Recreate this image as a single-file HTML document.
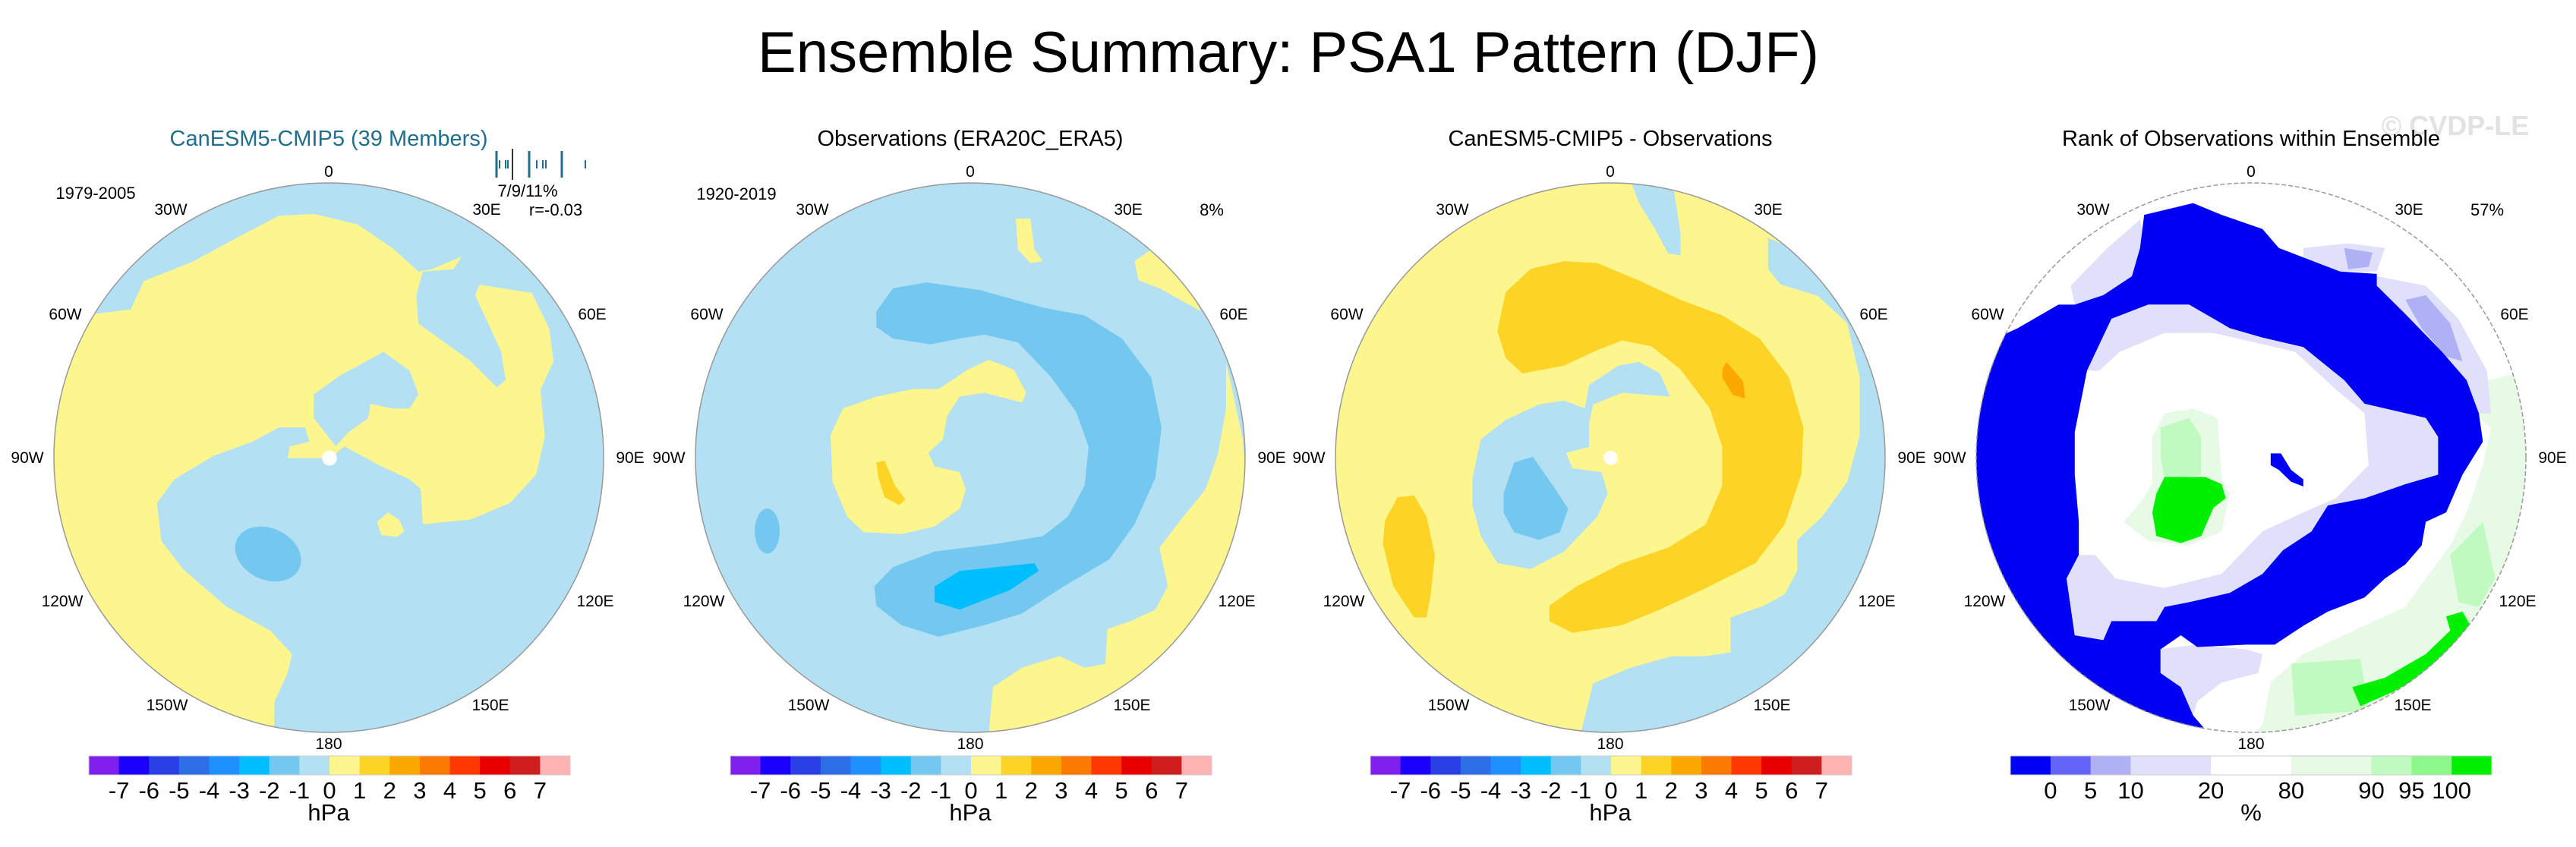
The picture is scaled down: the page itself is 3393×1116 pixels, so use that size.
<!DOCTYPE html>
<html><head><meta charset="utf-8"><style>
html,body{margin:0;padding:0;background:#fff;}
svg{display:block;font-family:"Liberation Sans",sans-serif;}
</style></head><body>
<svg id="fig" width="3393" height="1116" viewBox="0 0 3393 1116" xmlns="http://www.w3.org/2000/svg">
<defs>
<clipPath id="c1"><circle cx="433" cy="603" r="362"/></clipPath>
<clipPath id="c2"><circle cx="1278" cy="603" r="362"/></clipPath>
<clipPath id="c3"><circle cx="2121" cy="603" r="362"/></clipPath>
<clipPath id="c4"><circle cx="2965" cy="603" r="362"/></clipPath>
</defs>
<text x="1697" y="95" font-size="76" text-anchor="middle">Ensemble Summary: PSA1 Pattern (DJF)</text>
<text x="3234" y="178" font-size="36" font-weight="bold" fill="#e2e2e2" text-anchor="middle">© CVDP-LE</text>

<!-- Panel 1 -->
<g>
<text x="433" y="192" font-size="29" fill="#1f6e8c" text-anchor="middle">CanESM5-CMIP5 (39 Members)</text>
<g clip-path="url(#c1)">
<rect x="60" y="230" width="760" height="750" fill="#b3e0f3"/>
<g transform="translate(0,140) scale(0.5741,0.6223)">
<path fill="#fdf68e" d="M215,440 L300,430 330,370 440,330 540,280 640,232 720,228 820,250 900,300 960,350 990,345 1060,318 1040,345 970,350 955,400 960,460 1020,500 1080,540 1140,595 1160,580 1150,520 1120,460 1090,400 1100,378 1220,395 1260,470 1270,540 1240,600 1250,700 1230,780 1170,840 1080,875 970,885 965,810 940,790 870,760 790,720 760,745 660,745 665,720 710,710 700,680 640,680 580,710 490,740 400,790 360,840 370,920 420,980 520,1060 620,1110 670,1160 660,1200 630,1260 628,1340 500,1400 50,1400 50,300 Z"/>
<path fill="#b3e0f3" d="M720,610 L780,570 880,520 940,560 960,610 940,640 900,640 850,630 845,660 800,690 770,720 720,660 Z"/>
<path fill="#fdf68e" d="M865,880 L890,860 915,875 928,900 910,912 875,908 Z"/>
<ellipse cx="615" cy="948" rx="78" ry="55" transform="rotate(20 615 948)" fill="#74c8f0"/>
<ellipse cx="756" cy="745" rx="17" ry="16" fill="#fff"/>
</g></g>
<circle cx="433" cy="603" r="362" fill="none" stroke="#999" stroke-width="1.5"/>
<text x="126" y="262" font-size="22" text-anchor="middle">1979-2005</text>
<text x="695" y="259" font-size="22" text-anchor="middle">7/9/11%</text>
<text x="732" y="284" font-size="22" text-anchor="middle">r=-0.03</text>
<g id="ticks1"></g>
</g>

<!-- Panel 2 -->
<g>
<text x="1278" y="192" font-size="29" text-anchor="middle">Observations (ERA20C_ERA5)</text>
<g clip-path="url(#c2)">
<rect x="900" y="230" width="760" height="750" fill="#b3e0f3"/>
<g transform="translate(880,140) scale(0.5485,0.5102)">
<path fill="#74c8f0" d="M500,530 L540,470 620,455 750,475 900,520 1000,540 1090,600 1160,700 1185,830 1170,960 1120,1080 1060,1170 950,1240 850,1310 760,1340 650,1370 560,1340 500,1290 495,1240 540,1190 640,1150 790,1130 900,1110 960,1060 1000,980 1010,880 980,790 920,700 840,610 760,590 700,600 630,615 540,600 500,570 Z"/>
<path fill="#00bfff" d="M640,1240 L700,1200 880,1180 890,1200 820,1250 700,1300 640,1280 Z"/>
<path fill="#fdf68e" d="M390,850 L420,780 500,750 590,730 650,730 720,680 770,655 830,680 860,740 850,765 760,740 700,750 670,800 660,860 625,895 640,930 700,945 715,990 700,1040 640,1085 560,1105 470,1100 430,1060 395,970 Z"/>
<path fill="#fdd426" d="M500,920 L520,915 545,980 570,1015 555,1030 520,1010 505,960 Z"/>
<ellipse cx="238" cy="1097" rx="30" ry="58" fill="#74c8f0"/>
<path fill="#fdf68e" d="M1340,660 L1380,860 1400,1100 1300,1300 1100,1500 900,1620 770,1620 780,1500 850,1450 940,1420 1000,1450 1050,1440 1055,1350 1110,1330 1170,1300 1200,1240 1180,1140 1230,1070 1290,990 1320,900 1340,780 Z"/>
<path fill="#fdf68e" d="M835,290 L870,290 880,370 900,400 870,405 840,370 Z"/>
<path fill="#fdf68e" d="M1120,400 L1160,370 1250,470 1280,530 1180,470 1130,450 Z"/>
</g></g>
<circle cx="1278" cy="603" r="362" fill="none" stroke="#999" stroke-width="1.5"/>
<text x="970" y="263" font-size="22" text-anchor="middle">1920-2019</text>
<text x="1596" y="284" font-size="22" text-anchor="middle">8%</text>
</g>

<!-- Panel 3 -->
<g>
<text x="2121" y="192" font-size="29" text-anchor="middle">CanESM5-CMIP5 - Observations</text>
<g clip-path="url(#c3)">
<rect x="1740" y="230" width="760" height="750" fill="#fdf68e"/>
<g transform="translate(1720,140) scale(0.5485,0.5102)">
<path fill="#fdd426" d="M460,580 L480,480 540,420 620,400 700,405 800,450 900,500 1000,540 1090,600 1160,700 1195,830 1190,950 1150,1080 1080,1180 950,1250 850,1300 760,1340 640,1360 585,1330 585,1290 650,1240 760,1180 870,1140 960,1080 1000,980 1000,880 970,780 900,680 830,620 760,605 700,630 620,670 520,690 480,650 Z"/>
<path fill="#fba800" d="M1000,680 L1010,660 1050,710 1055,755 1025,745 1000,700 Z"/>
<path fill="#fdd426" d="M190,1070 L220,1010 260,1005 290,1060 310,1160 300,1260 290,1320 260,1320 210,1240 185,1130 Z"/>
<path fill="#b3e0f3" d="M400,960 L420,860 480,810 560,770 620,760 670,780 680,720 750,670 800,660 850,690 875,750 760,740 690,770 680,820 680,880 625,895 640,935 710,945 725,1000 700,1060 620,1150 540,1195 460,1180 420,1110 400,1030 Z"/>
<path fill="#74c8f0" d="M475,1000 L500,920 545,905 600,990 630,1040 610,1100 560,1120 500,1100 475,1050 Z"/>
<path fill="#b3e0f3" d="M1110,340 L1200,380 1300,500 1380,700 1420,1000 1320,1300 1100,1520 900,1620 660,1620 690,1490 780,1450 880,1420 960,1420 1020,1410 1020,1320 1100,1290 1150,1260 1180,1200 1180,1120 1240,1060 1300,970 1330,850 1330,700 1300,560 1230,490 1140,460 1110,420 Z"/>
<path fill="#b3e0f3" d="M775,180 L880,190 900,330 900,385 870,380 840,320 800,250 Z"/>
<ellipse cx="732" cy="908" rx="17" ry="18" fill="#fff"/>
</g></g>
<circle cx="2121" cy="603" r="362" fill="none" stroke="#999" stroke-width="1.5"/>
</g>

<!-- Panel 4 -->
<g>
<text x="2965" y="192" font-size="29" text-anchor="middle">Rank of Observations within Ensemble</text>
<g clip-path="url(#c4)">
<rect x="2590" y="230" width="760" height="750" fill="#fff"/>
<g transform="translate(2550,140) scale(0.5376,0.6223)">
<path fill="#e6fae6" d="M1240,600 L1460,560 1480,1400 700,1400 800,1310 820,1220 900,1160 1050,1100 1150,1060 1200,1000 1260,930 1300,860 1340,760 1360,680 Z"/>
<path fill="#c0fac0" d="M870,1180 L1040,1170 1060,1280 880,1290 Z"/>
<path fill="#c0fac0" d="M1260,950 L1340,880 1370,1000 1330,1060 1280,1050 Z"/>
<path fill="#e0e0fa" d="M330,380 L420,300 500,240 520,330 480,400 400,420 340,420 Z"/>
<path fill="#e0e0fa" d="M900,300 L1010,290 1100,300 1080,350 990,350 900,330 Z"/>
<path fill="#e0e0fa" d="M1080,360 L1200,380 1280,450 1350,560 1360,650 1330,650 1300,580 1240,520 1150,440 1080,380 Z"/>
<path fill="#b0b0f5" d="M1150,410 L1200,400 1260,460 1290,540 1250,530 1190,470 Z"/>
<path fill="#b0b0f5" d="M1000,300 L1070,310 1060,340 1010,345 Z"/>
<path fill="#e0e0fa" d="M540,1150 L640,1140 760,1150 800,1160 790,1200 700,1220 640,1260 630,1290 600,1230 550,1200 Z"/>
<path fill="#0000f5" fill-rule="evenodd" d="M510,230 L630,205 700,230 800,260 840,300 990,350 1080,355 1080,380 1150,440 1240,520 1300,580 1330,650 1340,710 1290,780 1250,860 1200,880 1190,930 1150,970 1100,1000 1050,1040 960,1070 900,1100 830,1140 760,1140 640,1145 600,1120 550,1150 550,1200 600,1230 630,1290 660,1320 660,1400 0,1400 0,540 150,490 200,470 300,420 340,420 410,400 480,360 500,300 Z M340,690 L370,560 430,450 520,420 620,420 720,470 800,490 900,510 1000,580 1050,630 1200,660 1230,700 1230,780 1150,800 1050,830 960,845 920,900 850,940 800,990 720,1030 620,1050 560,1060 540,1090 430,1090 410,1130 340,1120 320,1000 350,950 350,880 340,780 Z"/>
<path fill="#e0e0fa" d="M370,560 L430,450 520,420 620,420 720,470 800,490 900,510 1000,580 1050,630 1200,660 1230,700 1230,780 1150,800 1050,830 960,845 920,900 850,940 800,990 720,1030 620,1050 560,1060 540,1090 430,1090 410,1130 340,1120 320,1000 350,950 390,950 440,1000 560,1020 700,990 800,900 900,860 980,830 1060,760 1050,650 980,600 880,520 780,500 680,480 560,480 450,520 400,560 Z"/>
<path fill="#e6fae6" d="M530,700 L560,650 630,640 690,660 700,790 720,820 700,900 620,930 520,920 460,880 500,840 530,800 Z"/>
<path fill="#c0fac0" d="M550,680 L620,660 650,700 650,780 560,790 550,740 Z"/>
<path fill="#00f000" d="M540,820 L560,785 660,785 700,800 710,830 680,850 650,910 600,925 540,910 530,860 Z"/>
<path fill="#00f000" d="M1020,1230 L1100,1210 1200,1160 1260,1110 1250,1080 1290,1070 1310,1100 1270,1150 1200,1200 1120,1240 1040,1270 Z"/>
<path fill="#0000f5" d="M820,735 L845,735 870,770 900,790 900,805 870,795 840,770 820,760 Z"/>
</g></g>
<circle cx="2965" cy="603" r="362" fill="none" stroke="#999" stroke-width="1.5" stroke-dasharray="6 3"/>
<text x="3276" y="284" font-size="22" text-anchor="middle">57%</text>
</g>

<g id="lonlabels"></g>
<g id="colorbars"></g>
</svg>
<script>
const centers = [433, 1278, 2121, 2965];
const cy = 603;
const lonLabels = ['0','30E','60E','90E','120E','150E','180','150W','120W','90W','60W','30W'];
const lonDx = [0,208,347,397,351,213,0,-213,-351,-397,-347,-208];
const lonDy = [-377,-327,-189,0,189,326,377,326,189,0,-189,-327];
const hpaColors = ['#8020ee','#1a00fa','#2a40e6','#2d6ee6','#1e90ff','#00bfff','#74c8f0','#b3e0f3','#fdf68e','#fdd426','#fba800','#fc7a00','#ff3800','#e80000','#cf1e1e','#ffb3b3'];
const hpaTicks = ['-7','-6','-5','-4','-3','-2','-1','0','1','2','3','4','5','6','7'];
const rankColors = ['#0000f5','#6464fa','#b0b0f5','#e0e0fa','#ffffff','#e6fae6','#c0fac0','#8cf88c','#00f000'];
const rankWidths = [1,1,1,2,2,2,1,1,1];
const rankTicks = ['0','5','10','20','80','90','95','100'];
const memberTicks = [654,658,666,669,697,707,715,719,740,771];
const memberTall = [1,0,0,0,1,0,0,0,1,0];
const NS = 'http://www.w3.org/2000/svg';
function mk(tag, attrs, parent){const e=document.createElementNS(NS,tag);for(const k in attrs)e.setAttribute(k,attrs[k]);parent.appendChild(e);return e;}
const lg = document.getElementById('lonlabels');
centers.forEach((cx)=>{
  lonLabels.forEach((lab,i)=>{
    const t = mk('text',{x:cx+lonDx[i],y:cy+lonDy[i]+7,'font-size':21,'text-anchor':'middle'},lg);
    
    
    t.textContent = lab;
  });
});
const tg = document.getElementById('ticks1');
memberTicks.forEach((x,i)=>{
  const l = mk('line',{x1:x,x2:x,y1:memberTall[i]?199:211,y2:memberTall[i]?234:222,stroke:'#1f6e8c','stroke-width':memberTall[i]?3:2},tg);
  
  
});
const bl = mk('line',{x1:675,x2:675,y1:196,y2:237,stroke:'#333','stroke-width':2},tg);


const cg = document.getElementById('colorbars');
for(let p=0;p<3;p++){
  const x0 = centers[p]-316, w = 634/hpaColors.length;
  hpaColors.forEach((c,i)=>{
    const r = mk('rect',{x:x0+i*w,y:996,width:w+0.5,height:25,fill:c},cg);
    
    
  });
  mk('rect',{x:x0,y:996,width:634,height:25,fill:'none',stroke:'#ccc','stroke-width':1},cg);
  hpaTicks.forEach((t,i)=>{
    const e = mk('text',{x:x0+(i+1)*w,y:1052,'font-size':31,'text-anchor':'middle'},cg);
    
    
    e.textContent = t;
  });
  const u = mk('text',{x:centers[p],y:1081,'font-size':31,'text-anchor':'middle'},cg);
  
  
  u.textContent = 'hPa';
}
{
  const x0 = centers[3]-317, unit = 634/rankWidths.reduce((a,b)=>a+b,0);
  let x = x0; const bounds=[];
  rankColors.forEach((c,i)=>{
    const r = mk('rect',{x:x,y:996,width:rankWidths[i]*unit+0.5,height:25,fill:c},cg);
    
    
    x += rankWidths[i]*unit; bounds.push(x);
  });
  mk('rect',{x:x0,y:996,width:634,height:25,fill:'none',stroke:'#ccc','stroke-width':1},cg);
  rankTicks.forEach((t,i)=>{
    const e = mk('text',{x:bounds[i],y:1052,'font-size':31,'text-anchor':'middle'},cg);
    
    
    e.textContent = t;
  });
  const u = mk('text',{x:centers[3],y:1081,'font-size':31,'text-anchor':'middle'},cg);
  
  
  u.textContent = '%';
}
</script>
</body></html>
